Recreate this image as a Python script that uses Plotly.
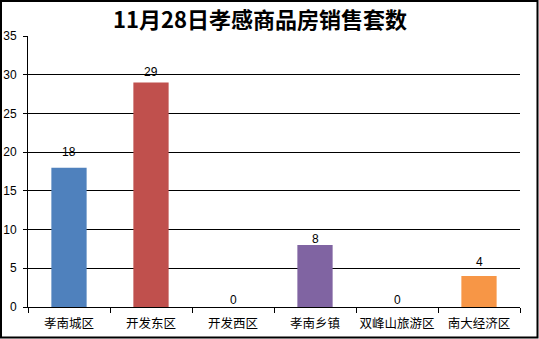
import plotly.graph_objects as go

categories = ["孝南城区", "开发东区", "开发西区", "孝南乡镇", "双峰山旅游区", "南大经济区"]
values = [18, 29, 0, 8, 0, 4]
colors = ["#4F81BD", "#C0504D", "#9BBB59", "#8064A2", "#4BACC6", "#F79646"]
label_shift = [16, 10, 7, 6, 7, 14]  # pixel offset of value labels above bar tops
title = "11月28日孝感商品房销售套数"

W, H = 539, 339
L, R, T, B = 28, 19, 36, 32
pw, ph = W - L - R, H - T - B

fig = go.Figure(go.Bar(
    x=categories, y=values, marker_color=colors, marker_line_width=0,
    width=0.43,
))

for c, v, s in zip(categories, values, label_shift):
    fig.add_annotation(x=c, y=v, text=str(v), showarrow=False, yanchor="middle",
                       yshift=s, font=dict(size=12, color="black",
                                           family="Liberation Sans, Arial"))

def px_x(p):
    return (p - L) / pw

def px_y(p):
    return (H - B - p) / ph

fig.add_shape(type="rect", xref="paper", yref="paper",
              x0=px_x(1), x1=px_x(537.5), y0=px_y(337.5), y1=px_y(1),
              line=dict(color="black", width=2), fillcolor="rgba(0,0,0,0)")

fig.update_layout(
    width=W, height=H,
    margin=dict(l=L, r=R, t=T, b=B, autoexpand=False),
    paper_bgcolor="white", plot_bgcolor="white",
    showlegend=False,
    title=dict(text=f"<b>{title}</b>", x=260 / W, xanchor="center", xref="container",
               y=1 - 20 / H, yanchor="middle",
               font=dict(size=22, color="black", family="Noto Sans CJK SC")),
    font=dict(family="Noto Sans CJK SC", size=12, color="black"),
)
fig.update_xaxes(showline=True, linecolor="black", linewidth=1, automargin=False,
                 ticks="outside", tickson="boundaries", ticklen=5, tickcolor="black",
                 ticklabelstandoff=5, tickangle=0,
                 tickfont=dict(size=12.5, family="Noto Sans CJK SC"), showgrid=False)
fig.update_yaxes(range=[0, 35], dtick=5, showline=True, linecolor="black", linewidth=1,
                 automargin=False,
                 ticks="outside", ticklen=4, tickcolor="black", ticklabelstandoff=4,
                 showgrid=True, gridcolor="black", gridwidth=1, zeroline=False,
                 tickfont=dict(size=12, family="Liberation Sans, Arial"))

fig.write_html("out.html")
